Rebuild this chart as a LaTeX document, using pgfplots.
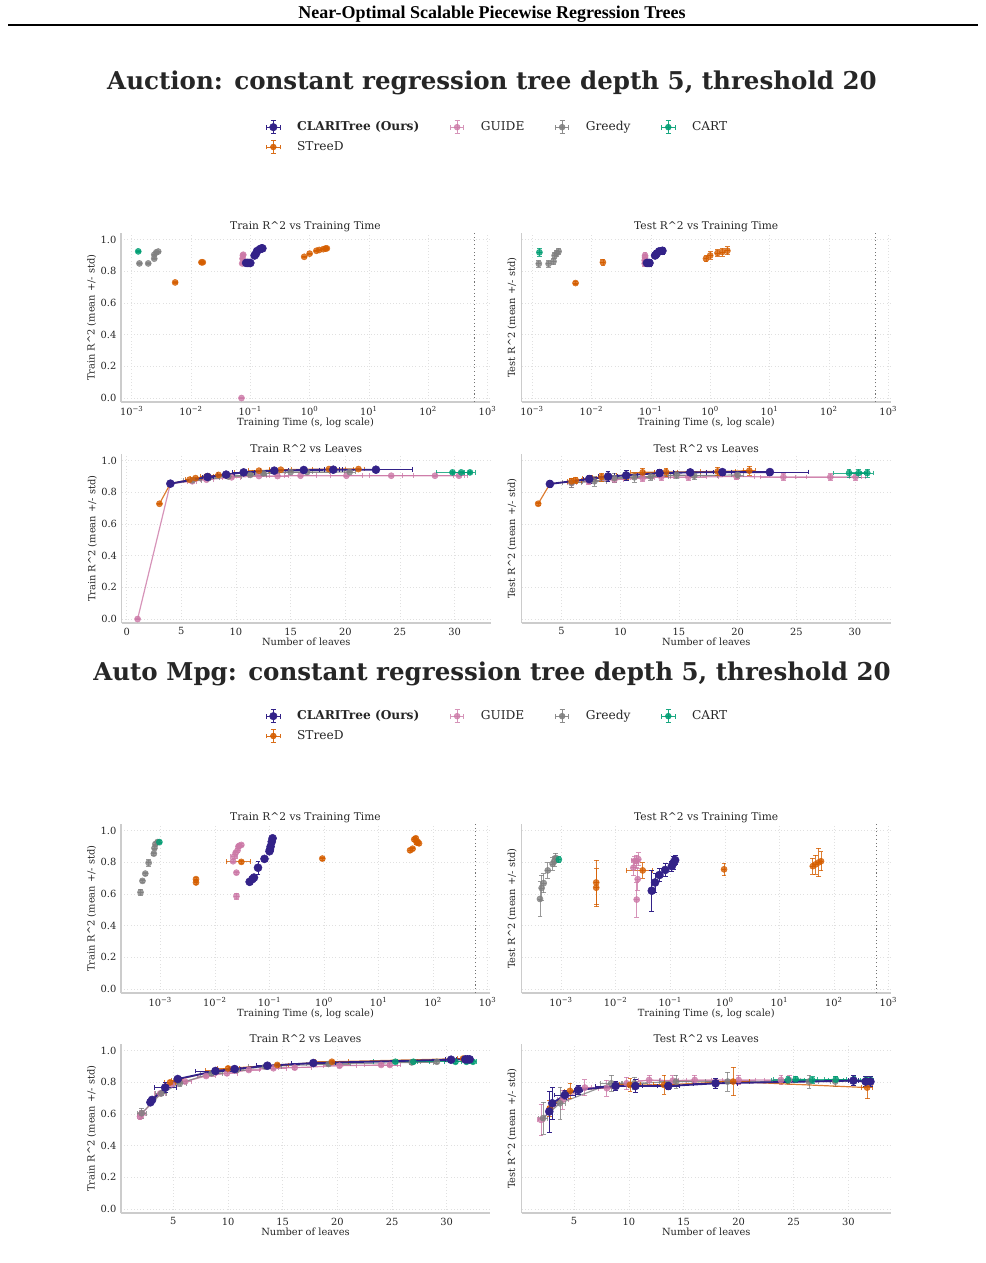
\documentclass[border=0pt]{standalone}
\usepackage{fontspec}
\setmainfont{DejaVu Serif}
\newfontfamily\timesfont{Liberation Serif}
\usepackage{pgfplots}
\pgfplotsset{compat=1.18}
\definecolor{clari}{HTML}{332288}
\definecolor{streed}{HTML}{D55E00}
\definecolor{guide}{HTML}{CC79A7}
\definecolor{greedy}{HTML}{808080}
\definecolor{cart}{HTML}{009E73}
\definecolor{txt}{HTML}{262626}
\newcommand{\ticksize}{\fontsize{7.4}{8.5}\selectfont}
\newcommand{\labsize}{\fontsize{7.4}{8.5}\selectfont}
\newcommand{\titsize}{\fontsize{8}{9}\selectfont}
\newcommand{\legsize}{\fontsize{9.15}{10.5}\selectfont}
\newcommand{\ebglyph}[3]{%
  \begin{scope}[opacity=#3]
  \draw[#1, line width=0.6pt] (0pt,0pt) -- (10pt,0pt) (5pt,-5pt) -- (5pt,5pt)
     (0pt,-1.8pt)--(0pt,1.8pt) (10pt,-1.8pt)--(10pt,1.8pt)
     (3.2pt,-5pt)--(6.8pt,-5pt) (3.2pt,5pt)--(6.8pt,5pt);
  \fill[#1] (5pt,0pt) circle (#2);
  \end{scope}}
\pgfplotsset{
  eb/.style={error bars/x dir=both, error bars/x explicit, error bars/y dir=both, error bars/y explicit,
     error bars/error bar style={line width=0.6pt, solid},
     error bars/error mark options={rotate=90, mark size=1.8pt, line width=0.6pt}},
  pclari/.style={color=clari, line width=1.4pt, mark=*, mark size=3pt,
     mark options={fill=clari, draw=clari, line width=0.4pt, solid}, eb},
  pother/.style={color=#1, opacity=0.8, line width=0.9pt, mark=*, mark size=2.3pt,
     mark options={fill=#1, draw=#1, line width=0.4pt, solid}, eb},
  base/.style={
    scale only axis, width=276.75pt, height=126.5pt,
    axis x line*=bottom, axis y line*=left,
    axis line style={draw=black!20, line width=0.8pt},
    major tick length=0pt, xminorticks=false, yminorticks=false,
    grid=major, grid style={dotted, draw=black!12, line width=0.4pt},
    ymin=-0.025, ymax=1.04, ytick={0,0.2,0.4,0.6,0.8,1.0},
    tick label style={font=\ticksize, text=txt},
    yticklabel style={/pgf/number format/fixed, /pgf/number format/fixed zerofill, /pgf/number format/precision=1},
    title style={font=\titsize, text=txt, yshift=-8.5pt},
    label style={font=\labsize, text=txt},
    xlabel style={yshift=5pt},
    clip=false,
  },
  timeax/.style={xtick={1e-3,1e-2,1e-1,1,10,100,1000},
    xticklabels={10\textsuperscript{−3},10\textsuperscript{−2},10\textsuperscript{−1},10\textsuperscript{0},10\textsuperscript{1},10\textsuperscript{2},10\textsuperscript{3}},
    xlabel={Training Time (s, log scale)}},
  leafax/.style={xtick={0,5,10,15,20,25,30}, xlabel={Number of leaves}},
  trainy/.style={ylabel={Train R\textasciicircum 2 (mean +/- std)}, ylabel style={yshift=-3.5pt}},
  testy/.style={yticklabels={}, ylabel={Test R\textasciicircum 2 (mean +/- std)}, ylabel style={yshift=-6.5pt}},
  leg/.style={legend columns=4, legend cell align=left,
    legend style={draw=none, fill=none, at={(1.022,#1)}, anchor=center, font=\legsize, text=txt,
      /tikz/every even column/.append style={column sep=21pt},
      /tikz/every odd column/.append style={column sep=10.5pt},
      row sep=2.5pt}},
}
\newcommand{\legendimgs}{%
  \addlegendimage{legend image code/.code={\ebglyph{clari}{2.8pt}{1}}}
  \addlegendentry{\textbf{CLARITree (Ours)}}
  \addlegendimage{legend image code/.code={\ebglyph{guide}{2.2pt}{0.8}}}
  \addlegendentry{GUIDE}
  \addlegendimage{legend image code/.code={\ebglyph{greedy}{2.2pt}{0.9}}}
  \addlegendentry{Greedy}
  \addlegendimage{legend image code/.code={\ebglyph{cart}{2.2pt}{0.9}}}
  \addlegendentry{CART}
  \addlegendimage{legend image code/.code={\ebglyph{streed}{2.2pt}{0.9}}}
  \addlegendentry{STreeD}
}
\begin{document}
\begin{tikzpicture}
\path[use as bounding box] (0pt,0pt) rectangle (738.75pt,-947.25pt);
\node[font=\timesfont\bfseries\fontsize{13.5}{15}\selectfont] at (369pt,-10.5pt) {Near-Optimal Scalable Piecewise Regression Trees};
\draw[line width=1.5pt] (6pt,-18.75pt) -- (733.5pt,-18.75pt);
\node[font=\bfseries\fontsize{18.4}{21}\selectfont, text=txt] at (369pt,-62pt) {Auction: constant regression tree depth 5, threshold 20};
\node[font=\bfseries\fontsize{18.4}{21}\selectfont, text=txt] at (369pt,-505.75pt) {Auto Mpg: constant regression tree depth 5, threshold 20};

% ---------------- P1 Auction train vs time
\begin{axis}[xmode=log, base, timeax, trainy, /pgf/number format/assume math mode=true, at={(90.75pt,-301.5pt)}, anchor=south west,
  xmin=6.6e-4, xmax=1100, title={Train R\textasciicircum 2 vs Training Time}, leg=1.571]
\legendimgs
\addplot[forget plot, dotted, draw=black!55, line width=0.8pt] coordinates {(600,-0.025) (600,1.04)};
\addplot[forget plot, pother=cart, only marks] coordinates {(0.00129,0.926) +- (0,0.004)};
\addplot[forget plot, pother=greedy, only marks] coordinates {(0.00135,0.85) +- (0,0.004) (0.0019,0.85) +- (0,0.004) (0.0024,0.88) +- (0,0.004) (0.0024,0.905) +- (0,0.004) (0.0026,0.92) +- (0,0.004) (0.0028,0.925) +- (0,0.004)};
\addplot[forget plot, pother=streed, only marks] coordinates {(0.0054,0.73) +- (0,0.004) (0.0150,0.857) +- (0,0.004) (0.0158,0.857) +- (0,0.004) (0.81,0.892) +- (0,0.004) (1.0,0.912) +- (0,0.004) (1.3,0.93) +- (0,0.004) (1.45,0.935) +- (0,0.004) (1.7,0.94) +- (0,0.004) (1.85,0.944) +- (0,0.004) (1.95,0.945) +- (0,0.004)};
\addplot[forget plot, pother=guide, only marks] coordinates {(0.071,0.0) +- (0,0.003) (0.073,0.85) +- (0,0.004) (0.074,0.88) +- (0,0.004) (0.075,0.9) +- (0,0.004) (0.076,0.905) +- (0,0.004)};
\addplot[forget plot, pclari, only marks] coordinates {(0.085,0.853) +- (0,0.004) (0.09,0.853) +- (0,0.004) (0.095,0.853) +- (0,0.004) (0.1,0.853) +- (0,0.004) (0.118,0.9) +- (0,0.004) (0.124,0.91) +- (0,0.004) (0.13,0.928) +- (0,0.004) (0.145,0.94) +- (0,0.004) (0.155,0.945) +- (0,0.004) (0.16,0.945) +- (0,0.004)};
\end{axis}

% ---------------- P2 Auction test vs time
\begin{axis}[xmode=log, base, timeax, testy, /pgf/number format/assume math mode=true, at={(391.3pt,-301.5pt)}, anchor=south west,
  xmin=6.7e-4, xmax=1100, title={Test R\textasciicircum 2 vs Training Time}]
\addplot[dotted, draw=black!55, line width=0.8pt] coordinates {(600,-0.025) (600,1.04)};
\addplot[pother=cart, only marks] coordinates {(0.00133,0.92) +- (0,0.026)};
\addplot[pother=greedy, only marks] coordinates {(0.0013,0.848) +- (0,0.02) (0.0019,0.848) +- (0,0.02) (0.0023,0.863) +- (0,0.02) (0.0024,0.9) +- (0,0.02) (0.0026,0.915) +- (0,0.02) (0.0028,0.926) +- (0,0.02)};
\addplot[pother=streed, only marks] coordinates {(0.0054,0.726) +- (0,0.01) (0.0156,0.857) +- (0,0.02) (0.85,0.88) +- (0,0.02) (1.0,0.9) +- (0,0.025) (1.33,0.916) +- (0,0.02) (1.6,0.922) +- (0,0.025) (1.95,0.93) +- (0,0.025)};
\addplot[pother=guide, only marks] coordinates {(0.079,0.85) +- (0,0.02) (0.079,0.87) +- (0,0.02) (0.08,0.89) +- (0,0.02) (0.08,0.9) +- (0,0.02)};
\addplot[pclari, only marks] coordinates {(0.086,0.853) +- (0,0.02) (0.09,0.853) +- (0,0.02) (0.095,0.853) +- (0,0.02) (0.118,0.9) +- (0,0.02) (0.125,0.91) +- (0,0.02) (0.138,0.926) +- (0,0.02) (0.157,0.93) +- (0,0.02)};
\end{axis}

% ---------------- P3 Auction train vs leaves
\begin{axis}[base, leafax, trainy, /pgf/number format/assume math mode=true, at={(91.3pt,-467.25pt)}, anchor=south west,
  xmin=-0.45, xmax=33.3, title={Train R\textasciicircum 2 vs Leaves}]
\addplot[pother=guide] coordinates {(1,0.0) +- (0,0.003) (4,0.855) +- (0,0.004) (6,0.87) +- (0.4,0.004) (7.3,0.88) +- (0.6,0.004) (9.6,0.895) +- (0.8,0.004) (12.1,0.903) +- (1,0.004) (13.8,0.903) +- (1,0.004) (15.9,0.905) +- (1.5,0.004) (20.1,0.905) +- (1.5,0.004) (24.2,0.905) +- (2,0.004) (28.2,0.905) +- (3,0.004) (30.4,0.905) +- (0.5,0.004)};
\addplot[pother=greedy] coordinates {(4,0.855) +- (0,0.004) (6,0.876) +- (0.8,0.004) (7.5,0.89) +- (1,0.004) (9.3,0.9) +- (1.2,0.004) (11.3,0.91) +- (1.5,0.004) (12.5,0.92) +- (1.5,0.004) (15,0.928) +- (2,0.004) (16.5,0.928) +- (2,0.004) (20.4,0.928) +- (0.5,0.004)};
\addplot[pother=streed] coordinates {(3,0.728) +- (0,0.004) (4,0.855) +- (0,0.004) (5.75,0.88) +- (0.4,0.004) (6.3,0.89) +- (0.5,0.004) (7.3,0.9) +- (0.6,0.004) (8.4,0.91) +- (0.8,0.004) (10.7,0.928) +- (0.8,0.004) (12.1,0.937) +- (1,0.004) (14.1,0.943) +- (1,0.004) (18.5,0.947) +- (1.5,0.004) (21.2,0.947) +- (0.5,0.004)};
\addplot[pother=cart] coordinates {(29.8,0.926) +- (1.5,0.004) (30.6,0.926) +- (0.8,0.004) (31.4,0.926) +- (0.5,0.004)};
\addplot[pclari] coordinates {(4,0.855) +- (0,0.004) (7.4,0.897) +- (0.5,0.004) (9.1,0.912) +- (0.8,0.004) (10.7,0.926) +- (1,0.004) (13.5,0.937) +- (1.3,0.004) (16.2,0.941) +- (1.4,0.004) (18.9,0.943) +- (0.8,0.004) (22.8,0.943) +- (3.3,0.004)};
\end{axis}

% ---------------- P4 Auction test vs leaves
\begin{axis}[base, leafax, testy, /pgf/number format/assume math mode=true, at={(391.3pt,-467.25pt)}, anchor=south west,
  xmin=1.6, xmax=33.05, title={Test R\textasciicircum 2 vs Leaves}]
\addplot[pother=guide] coordinates {(5.85,0.86) +- (0.4,0.03) (7.3,0.87) +- (0.6,0.02) (9.5,0.88) +- (0.8,0.02) (11.9,0.89) +- (1,0.02) (13.5,0.897) +- (1,0.02) (15.8,0.897) +- (1.5,0.02) (19.9,0.9) +- (1.5,0.02) (23.9,0.897) +- (2,0.02) (27.9,0.897) +- (3,0.02) (30.05,0.897) +- (0.5,0.02)};
\addplot[pother=greedy] coordinates {(5.85,0.86) +- (0.8,0.03) (7.8,0.87) +- (1,0.03) (9.5,0.89) +- (1.2,0.03) (11.2,0.895) +- (1.5,0.03) (12.6,0.9) +- (1.5,0.025) (14.8,0.91) +- (2,0.025) (16.3,0.905) +- (2,0.025) (20,0.91) +- (0.5,0.025)};
\addplot[pother=streed] coordinates {(3,0.728) +- (0,0.01) (4,0.853) +- (0,0.02) (5.85,0.87) +- (0.4,0.02) (6.2,0.876) +- (0.5,0.02) (7.4,0.886) +- (0.6,0.02) (8.4,0.897) +- (0.8,0.025) (10.5,0.91) +- (0.8,0.03) (11.9,0.926) +- (1,0.025) (13.9,0.928) +- (1,0.025) (18.3,0.932) +- (1.5,0.025) (21,0.937) +- (0.5,0.03)};
\addplot[pother=cart] coordinates {(29.5,0.922) +- (1.3,0.025) (30.3,0.922) +- (0.8,0.025) (31.05,0.922) +- (0.5,0.025)};
\addplot[pclari] coordinates {(4,0.853) +- (0,0.02) (7.35,0.884) +- (0.5,0.025) (8.96,0.9) +- (0.8,0.03) (10.5,0.907) +- (1,0.03) (13.35,0.922) +- (1.3,0.02) (15.96,0.926) +- (1.4,0.02) (18.7,0.928) +- (0.8,0.02) (22.75,0.928) +- (3.3,0.02)};
\end{axis}

% ---------------- P5 Auto Mpg train vs time
\begin{axis}[xmode=log, base, timeax, trainy, /pgf/number format/assume math mode=true, at={(90.75pt,-744.75pt)}, anchor=south west,
  xmin=1.9e-4, xmax=1100, title={Train R\textasciicircum 2 vs Training Time}, leg=1.583]
\legendimgs
\addplot[forget plot, dotted, draw=black!55, line width=0.8pt] coordinates {(600,-0.025) (600,1.04)};
\addplot[forget plot, pother=greedy, only marks] coordinates {(0.000433,0.611) +- (0,0.02) (0.00047,0.683) +- (0,0.01) (0.00053,0.729) +- (0,0.01) (0.00061,0.797) +- (0,0.02) (0.00076,0.855) +- (0,0.01) (0.00078,0.89) +- (0,0.01) (0.00081,0.915) +- (0,0.01) (0.00089,0.928) +- (0,0.01)};
\addplot[forget plot, pother=cart, only marks] coordinates {(0.00096,0.928) +- (0,0.01)};
\addplot[forget plot, pother=streed, only marks] coordinates {(0.0045,0.694) +- (0,0.01) (0.0045,0.673) +- (0,0.01) (0.0305,0.803) +- (0.0145,0.01) (0.93,0.824) +- (0,0.01) (37.7,0.876) +- (0,0.01) (42,0.886) +- (0,0.01) (50,0.925) +- (0,0.01) (48,0.952) +- (0,0.01) (45,0.945) +- (0,0.01) (52,0.93) +- (0,0.01) (55,0.92) +- (0,0.01)};
\addplot[forget plot, pother=guide, only marks] coordinates {(0.0248,0.586) +- (0,0.02) (0.0248,0.735) +- (0,0.01) (0.0215,0.807) +- (0,0.01) (0.0225,0.838) +- (0.003,0.01) (0.024,0.86) +- (0,0.01) (0.026,0.876) +- (0,0.01) (0.027,0.9) +- (0,0.01) (0.0305,0.91) +- (0,0.01) (0.028,0.905) +- (0,0.01)};
\addplot[forget plot, pclari, only marks] coordinates {(0.0433,0.677) +- (0,0.01) (0.0486,0.694) +- (0,0.01) (0.052,0.704) +- (0,0.01) (0.0616,0.766) +- (0,0.04) (0.081,0.822) +- (0,0.01) (0.1,0.87) +- (0,0.01) (0.102,0.88) +- (0,0.01) (0.105,0.9) +- (0,0.01) (0.11,0.93) +- (0,0.01) (0.114,0.952) +- (0,0.01)};
\end{axis}

% ---------------- P6 Auto Mpg test vs time
\begin{axis}[xmode=log, base, timeax, testy, /pgf/number format/assume math mode=true, at={(391.3pt,-744.75pt)}, anchor=south west,
  xmin=1.9e-4, xmax=1100, title={Test R\textasciicircum 2 vs Training Time}]
\addplot[dotted, draw=black!55, line width=0.8pt] coordinates {(600,-0.025) (600,1.04)};
\addplot[pother=greedy, only marks] coordinates {(0.00041,0.569) +- (0,0.11) (0.00044,0.638) +- (0,0.08) (0.00048,0.669) +- (0,0.06) (0.00057,0.749) +- (0,0.05) (0.0007,0.79) +- (0,0.04) (0.00075,0.807) +- (0,0.03) (0.0008,0.828) +- (0,0.03)};
\addplot[pother=cart, only marks] coordinates {(0.00091,0.818) +- (0,0.02)};
\addplot[pother=streed, only marks] coordinates {(0.0044,0.673) +- (0,0.14) (0.0044,0.64) +- (0,0.12) (0.0313,0.749) +- (0.0155,0.05) (0.97,0.756) +- (0,0.04) (41,0.776) +- (0,0.05) (46,0.787) +- (0,0.06) (53,0.8) +- (0,0.09) (58,0.807) +- (0,0.06)};
\addplot[pother=guide, only marks] coordinates {(0.0243,0.565) +- (0,0.11) (0.0253,0.694) +- (0,0.07) (0.0211,0.766) +- (0,0.05) (0.0243,0.807) +- (0,0.04) (0.026,0.82) +- (0,0.04) (0.0225,0.81) +- (0.003,0.03)};
\addplot[pclari, only marks] coordinates {(0.0459,0.621) +- (0,0.13) (0.0528,0.673) +- (0,0.06) (0.0634,0.72) +- (0,0.04) (0.081,0.752) +- (0,0.04) (0.107,0.776) +- (0,0.03) (0.115,0.797) +- (0,0.04) (0.123,0.814) +- (0,0.03)};
\end{axis}

% ---------------- P7 Auto Mpg train vs leaves
\begin{axis}[base, leafax, trainy, /pgf/number format/assume math mode=true, at={(90.75pt,-909.75pt)}, anchor=south west,
  xmin=0.21, xmax=33.96, title={Train R\textasciicircum 2 vs Leaves}]
\addplot[pother=guide] coordinates {(1.95,0.584) +- (0.2,0.02) (2.1,0.6) +- (0.3,0.02) (3.8,0.73) +- (0.5,0.01) (4.85,0.788) +- (0.5,0.01) (6.07,0.805) +- (0.6,0.01) (8,0.84) +- (0.8,0.01) (9.9,0.857) +- (1,0.01) (11.9,0.878) +- (1,0.01) (14.15,0.889) +- (1.2,0.01) (16.1,0.893) +- (1.5,0.01) (20.2,0.905) +- (1.5,0.01) (24,0.91) +- (1.5,0.01) (24.8,0.91) +- (1,0.01)};
\addplot[pother=greedy] coordinates {(2.1,0.605) +- (0.4,0.03) (3.9,0.73) +- (0.5,0.01) (5.6,0.795) +- (0.6,0.02) (8.5,0.857) +- (1,0.01) (10.8,0.878) +- (1.2,0.01) (13.4,0.9) +- (1.5,0.01) (19.2,0.916) +- (2,0.01) (26.8,0.926) +- (2,0.01) (29.1,0.93) +- (1.5,0.01)};
\addplot[pother=cart] coordinates {(25.3,0.93) +- (2,0.01) (26.95,0.93) +- (1.5,0.01) (30.8,0.93) +- (1,0.01) (31.8,0.93) +- (0.5,0.01) (32.4,0.93) +- (0.3,0.01)};
\addplot[pother=streed] coordinates {(2.9,0.68) +- (0.2,0.01) (4.7,0.8) +- (0.5,0.01) (5.3,0.815) +- (0.5,0.01) (8.9,0.875) +- (1,0.01) (10,0.888) +- (1,0.01) (14.5,0.91) +- (1,0.01) (19.5,0.93) +- (1.5,0.01) (31.5,0.95) +- (0.5,0.01)};
\addplot[pclari] coordinates {(2.9,0.674) +- (0,0.01) (3.05,0.689) +- (0.2,0.01) (4.25,0.767) +- (1,0.03) (5.4,0.821) +- (0.3,0.01) (8.85,0.872) +- (1.8,0.01) (10.6,0.884) +- (0.5,0.01) (13.6,0.905) +- (1,0.01) (17.8,0.922) +- (2,0.01) (30.4,0.943) +- (0.5,0.01) (31.7,0.945) +- (0.3,0.01) (31.9,0.945) +- (0.3,0.01) (32.1,0.945) +- (0.2,0.01)};
\end{axis}

% ---------------- P8 Auto Mpg test vs leaves
\begin{axis}[base, leafax, testy, /pgf/number format/assume math mode=true, at={(391.3pt,-909.75pt)}, anchor=south west,
  xmin=0.25, xmax=33.85, title={Test R\textasciicircum 2 vs Leaves}]
\addplot[pother=guide] coordinates {(2,0.563) +- (0.3,0.1) (3.97,0.69) +- (0.5,0.06) (6,0.767) +- (0.6,0.05) (8,0.763) +- (0.8,0.05) (9.8,0.794) +- (1,0.04) (11.85,0.815) +- (1,0.03) (14,0.811) +- (1.2,0.03) (16,0.815) +- (1.5,0.03) (20,0.815) +- (1.5,0.03) (23.85,0.815) +- (1.5,0.03) (24.6,0.815) +- (1,0.03)};
\addplot[pother=greedy] coordinates {(2.2,0.574) +- (0.4,0.1) (3.73,0.668) +- (0.5,0.1) (8.4,0.794) +- (1,0.05) (10.5,0.794) +- (1.2,0.04) (14.3,0.805) +- (1.5,0.04) (19,0.805) +- (2,0.06) (26.4,0.805) +- (2,0.04) (28.8,0.805) +- (1.5,0.03)};
\addplot[pother=cart] coordinates {(24.5,0.815) +- (1.5,0.02) (25.2,0.82) +- (2,0.02) (26.7,0.815) +- (1.5,0.02) (28.85,0.818) +- (1,0.02) (30.5,0.815) +- (1,0.02) (31.6,0.815) +- (0.5,0.02) (32,0.815) +- (0.3,0.02)};
\addplot[pother=streed] coordinates {(2.8,0.636) +- (0.2,0.05) (4.64,0.746) +- (0.5,0.05) (10.1,0.784) +- (1,0.04) (13.2,0.784) +- (1,0.06) (19.5,0.805) +- (1.5,0.09) (31.7,0.767) +- (0.5,0.07)};
\addplot[pclari] coordinates {(2.76,0.616) +- (0,0.13) (3.03,0.668) +- (0.3,0.1) (4.18,0.72) +- (1,0.03) (5.4,0.752) +- (0.4,0.03) (8.8,0.777) +- (1.8,0.03) (10.6,0.777) +- (0.6,0.04) (13.6,0.777) +- (1,0.02) (17.9,0.794) +- (2,0.03) (30.45,0.811) +- (0.5,0.03) (31.57,0.805) +- (0.3,0.03) (32,0.805) +- (0.2,0.03)};
\end{axis}
\end{tikzpicture}
\end{document}
